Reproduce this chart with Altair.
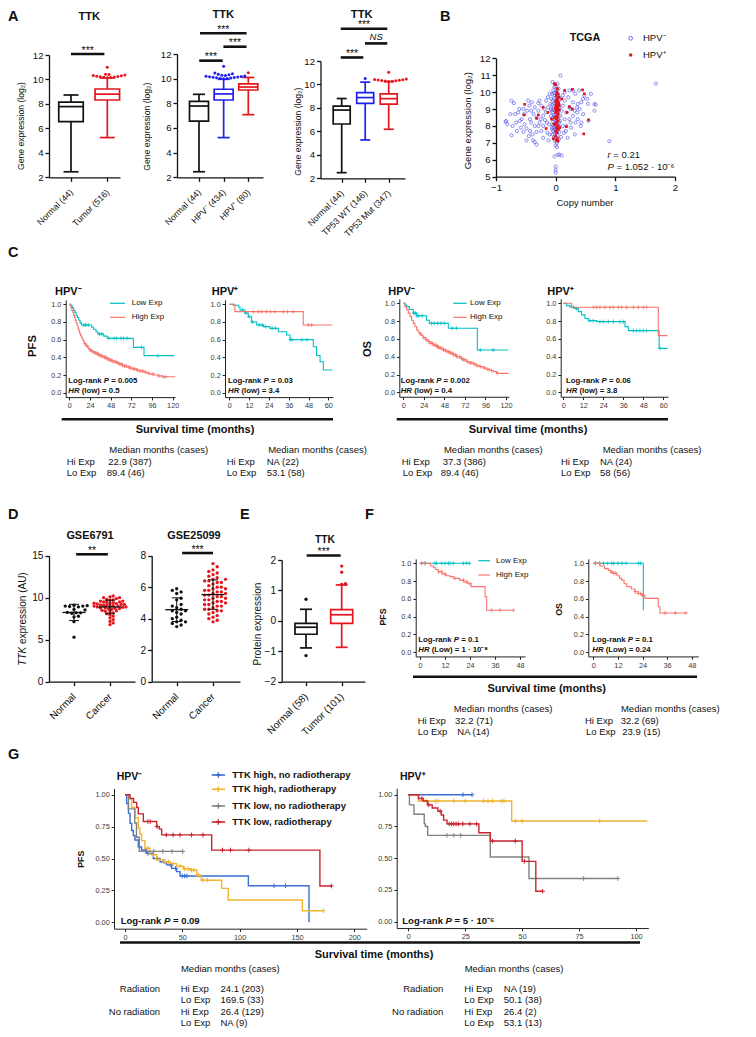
import json
import altair as alt
import numpy as np
import pandas as pd

FONT = "Liberation Sans"
W, H = 740, 1021
OX, OY = 8, 8

# ---------------- colours ----------------
BLACK = "#111111"
BOX_BLUE = "#1f1ff2"
BOX_RED = "#e3161e"
SC_BLUE = "#5a5ae8"
SC_RED = "#e0101a"
TEAL = "#00BFC4"
SALMON = "#F8766D"
G_BLUE = "#3b6fd4"
G_YEL = "#f1b531"
G_GRAY = "#828282"
G_RED = "#c92530"
AX_DARK = "#222222"
LAB_GRAY = "#3a3a3a"

# ======================= DATA =======================
# ---- Panel A : box summaries (lower whisker, Q1, median, Q3, upper whisker) ----
A1_cats = ["Normal (44)", "Tumor (516)"]
A1_low = [2.45, 5.25]
A1_q1 = [6.55, 8.32]
A1_med = [7.78, 8.80]
A1_q3 = [8.15, 9.22]
A1_high = [8.73, 10.12]
A1_out_cat = [1] * 13
A1_out_val = [10.15, 10.16, 10.18, 10.2, 10.22, 10.24, 10.26, 10.3, 10.33, 10.36, 10.4, 10.43, 11.0]

A2_cats = ["Normal (44)", "HPV\u207b (434)", "HPV\u207a (80)"]
A2_low = [2.45, 5.22, 7.08]
A2_q1 = [6.55, 8.27, 9.08]
A2_med = [7.78, 8.76, 9.32]
A2_q3 = [8.15, 9.14, 9.57]
A2_high = [8.73, 9.95, 10.1]
A2_out_cat = [1] * 19 + [2]
A2_out_val = [10.0, 10.02, 10.04, 10.06, 10.08, 10.1, 10.12, 10.14, 10.16, 10.18, 10.2, 10.22,
              10.25, 10.28, 10.32, 10.36, 10.4, 10.45, 11.0, 10.48]

A3_cats = ["Normal (44)", "TP53 WT (146)", "TP53 Mut (347)"]
A3_low = [2.48, 5.27, 6.18]
A3_q1 = [6.63, 8.39, 8.33]
A3_med = [7.82, 8.88, 8.79]
A3_q3 = [8.16, 9.3, 9.19]
A3_high = [8.8, 10.2, 10.24]
A3_out_cat = [1] + [2] * 11
A3_out_val = [10.5, 10.26, 10.28, 10.3, 10.32, 10.34, 10.36, 10.38, 10.4, 10.43, 10.46, 11.04]

# ---- Panel B : copy number vs expression ----
B_neg_points = [
    (-0.74, 9.5), (-0.70, 9.35), (-0.76, 8.7), (-0.83, 8.3), (-0.81, 8.1), (-0.74, 7.45), (-0.66, 8.2),
    (-0.68, 8.7), (-0.63, 8.8), (-0.60, 8.3), (-0.57, 8.4), (-0.54, 9.0), (-0.53, 8.7), (-0.54, 7.65),
    (-0.49, 7.85), (-0.52, 8.1), (-0.46, 9.5), (-0.44, 9.2), (-0.43, 8.4), (-0.41, 8.2), (-0.43, 7.7),
    (-0.49, 7.15), (-0.38, 7.15), (-0.35, 7.05), (-0.39, 7.5), (-0.32, 7.65), (-0.35, 8.0), (-0.32, 8.5),
    (-0.29, 8.9), (-0.27, 9.5), (-0.24, 9.2), (-0.21, 8.6), (-0.27, 8.2), (-0.24, 7.7), (-0.21, 8.0),
    (-0.18, 8.35), (-0.16, 8.8), (-0.13, 9.1), (-0.16, 9.5), (-0.13, 9.7), (-0.10, 9.9), (-0.11, 8.1),
    (-0.10, 7.5), (-0.12, 7.15), (-0.32, 6.9), (-0.29, 9.35), (-0.41, 8.9), (-0.48, 8.9), (-0.61, 9.0),
    (-0.37, 8.7), (-0.29, 8.0), (-0.21, 7.3), (-0.84, 8.25), (-0.72, 8.0), (-0.65, 7.7), (-0.58, 7.9),
    (-0.45, 7.4), (-0.40, 9.4), (-0.35, 9.1), (-0.25, 8.4), (-0.19, 9.0), (-0.15, 8.2), (-0.08, 8.6),
    (-0.09, 9.3), (-0.06, 7.8), (-0.14, 7.6),
    (-0.05, 10.6), (0.03, 10.5), (-0.02, 10.3), (0.05, 10.2), (-0.04, 10.1), (0.01, 10.0), (-0.06, 9.9),
    (0.04, 9.85), (-0.01, 9.8), (0.06, 9.7), (-0.03, 9.65), (0.02, 9.6), (-0.05, 9.5), (0.04, 9.45),
    (0.0, 9.4), (-0.02, 9.35), (0.05, 9.3), (-0.06, 9.25), (0.03, 9.2), (-0.03, 9.15), (0.01, 9.1),
    (0.06, 9.05), (-0.04, 9.0), (0.02, 8.95), (-0.01, 8.9), (0.04, 8.85), (-0.05, 8.8), (0.03, 8.75),
    (0.0, 8.7), (-0.03, 8.65), (0.05, 8.6), (-0.02, 8.55), (0.02, 8.5), (-0.06, 8.45), (0.04, 8.4),
    (-0.01, 8.35), (0.01, 8.3), (-0.04, 8.25), (0.06, 8.2), (-0.02, 8.15), (0.03, 8.1), (-0.05, 8.05),
    (0.0, 8.0), (0.05, 7.95), (-0.03, 7.9), (0.02, 7.85), (-0.01, 7.8), (0.04, 7.75), (-0.04, 7.7),
    (0.01, 7.6), (-0.02, 7.55), (0.03, 7.45), (0.0, 7.35), (-0.03, 7.3), (0.05, 7.2), (-0.01, 7.1),
    (0.02, 7.0), (0.0, 6.85), (0.06, 6.3), (-0.02, 6.2), (0.0, 5.6), (0.0, 5.4), (0.0, 5.25),
    (0.02, 6.75), (-0.05, 7.5), (0.05, 8.0), (-0.07, 8.9), (0.07, 9.55), (0.08, 10.98), (-0.08, 9.0),
    (0.08, 8.6), (-0.07, 9.6), (0.07, 8.3), (-0.06, 7.9), (0.06, 7.65), (0.0, 10.35), (0.02, 10.15),
    (-0.03, 9.95),
    (0.23, 10.1), (0.29, 10.1), (0.33, 9.9), (0.39, 10.1), (0.48, 9.8), (0.59, 9.9), (0.53, 9.6),
    (0.65, 9.3), (0.67, 9.25), (0.65, 8.9), (0.43, 9.4), (0.37, 9.3), (0.36, 9.1), (0.32, 8.9),
    (0.36, 8.8), (0.37, 8.4), (0.33, 8.2), (0.43, 8.2), (0.90, 7.1), (0.32, 7.5), (1.68, 10.5),
    (0.23, 9.1), (0.18, 8.8), (0.15, 8.4), (0.18, 8.0), (0.26, 7.9), (0.17, 7.7), (0.09, 7.35),
    (0.12, 8.0), (0.15, 9.5), (0.12, 9.8), (0.21, 9.7), (0.29, 9.4), (0.26, 9.0), (0.29, 8.6),
    (0.23, 8.4), (0.46, 8.7), (0.54, 9.3), (0.46, 9.6), (0.25, 8.2), (0.12, 9.2), (0.10, 8.9),
    (0.10, 6.25), (0.04, 6.3), (0.42, 8.0), (0.20, 7.3), (0.15, 10.0), (0.40, 9.0), (0.55, 8.3),
    (0.14, 7.6),
]
B_pos_points = [
    (0.0, 10.45), (0.03, 10.2), (0.02, 10.0), (0.04, 9.9), (0.01, 9.8), (0.05, 9.7), (0.02, 9.6),
    (0.03, 9.5), (0.0, 9.45), (0.04, 9.4), (0.02, 9.35), (0.05, 9.3), (0.01, 9.25), (0.03, 9.2),
    (0.0, 9.15), (0.04, 9.1), (0.02, 9.05), (0.03, 9.0), (0.05, 8.95), (0.01, 8.9), (0.03, 8.85),
    (0.0, 8.8), (0.04, 8.7), (0.02, 8.6), (0.03, 8.5), (0.01, 8.4), (0.04, 8.3), (0.02, 8.2),
    (0.0, 8.1), (0.03, 8.0), (0.01, 7.9), (0.04, 7.8), (0.02, 7.6), (0.0, 7.4), (0.03, 7.25),
    (0.01, 7.15), (0.04, 7.1), (-0.02, 8.5), (-0.01, 9.0), (0.06, 8.95), (-0.02, 10.5), (0.15, 10.1),
    (0.28, 10.17), (0.45, 10.13), (0.48, 9.9), (-0.52, 9.28), (-0.53, 8.65), (-0.32, 8.45),
    (-0.21, 9.1), (-0.13, 8.8), (-0.07, 8.4), (-0.16, 7.85), (-0.29, 8.65), (0.23, 9.14), (0.19, 8.8),
    (0.18, 7.96), (0.55, 8.36), (0.47, 7.53), (-0.04, 7.25), (0.28, 9.0), (0.10, 9.6), (0.06, 9.2),
    (-0.03, 8.1), (0.07, 7.9), (0.0, 7.7),
]

# ---- Panel C : Kaplan-Meier (step times, survival after step, last follow-up, censor times) ----
C1_low_t = [0, 2, 3.5, 5, 6.5, 8, 9.5, 11, 12.5, 14, 26, 28, 31, 33, 40, 44, 74.3, 86.7]
C1_low_s = [1.0, .98, .96, .93, .91, .87, .85, .82, .79, .766, .74, .717, .69, .664, .64, .615, .513, .419]
C1_low_end = 122
C1_low_cens = [17, 19, 22, 35, 38, 46, 52, 55, 60, 63, 67, 84, 103]
C1_high_t = [0, 1, 2, 3, 4, 5, 6, 7, 8, 9, 10, 11, 12, 13, 14, 15, 16, 17, 18, 19, 20, 22, 24, 26, 28, 30,
             32, 34, 36, 38, 40, 43, 46, 49, 52, 55, 58, 61, 64, 67, 70, 74, 78, 82, 86, 90, 94, 98, 103, 108]
C1_high_s = [1.0, .98, .96, .93, .91, .88, .85, .82, .79, .76, .73, .70, .67, .65, .63, .61, .59, .57, .555,
             .54, .525, .50, .485, .47, .46, .45, .44, .43, .42, .41, .40, .385, .37, .36, .35, .34, .325,
             .31, .30, .29, .28, .27, .255, .245, .235, .22, .21, .20, .19, .18]
C1_high_end = 123
C1_high_cens = [18, 21, 24, 26, 28, 30, 31, 33, 34, 36, 37, 39, 41, 42, 44, 45, 47, 48, 50, 52, 54, 56, 58,
                60, 62, 64, 66, 69, 71, 74, 76, 79, 82, 85, 88, 92, 97, 104, 109, 112]

C2_low_t = [0, 2.4, 5.5, 6.5, 9.5, 11.5, 13.5, 16.6, 20.6, 24.6, 29.7, 34.7, 36.8, 50.9, 52.9, 55, 57]
C2_low_s = [1.0, .99, .97, .936, .9, .86, .8, .766, .747, .728, .69, .653, .6, .52, .42, .35, .257]
C2_low_end = 62.5
C2_low_cens = [8, 10, 12, 14, 18, 20, 22, 26, 28, 37, 38, 44, 47]
C2_high_t = [0, 3.4, 44.8]
C2_high_s = [1.0, .917, .766]
C2_high_end = 62.5
C2_high_cens = [14.5, 17.6, 19.6, 22.6, 25, 27.7, 32.7, 35.2, 38.8, 47.9, 49.9]

C3_low_t = [0, 2, 3.9, 7, 11.7, 15.6, 27, 30.4, 52.6, 86.5]
C3_low_s = [1.0, .98, .963, .93, .89, .86, .81, .775, .72, .476]
C3_low_end = 122.7
C3_low_cens = [12, 14, 16, 18, 22, 33, 36, 40, 44, 48, 57, 62, 90, 105]
C3_high_t = [0, 2, 3.9, 5.8, 7.8, 9.7, 11.7, 13.6, 15.6, 17.5, 19.5, 21.5, 23.4, 26, 29.2, 32, 35, 39, 42.9,
             46.8, 50.6, 54.5, 58.4, 62.3, 66.2, 70, 74, 78, 81.8, 85.7, 89.6, 93.5, 97.4, 101, 105, 109]
C3_high_s = [1.0, .96, .925, .89, .85, .81, .775, .74, .70, .675, .655, .635, .614, .59, .57, .55, .53, .51,
             .494, .475, .457, .44, .42, .40, .382, .365, .345, .33, .318, .30, .288, .273, .258, .245, .232, .213]
C3_high_end = 123
C3_high_cens = [20, 24, 27, 30, 32, 34, 36, 38, 40, 41, 43, 45, 47, 49, 51, 53, 55, 57, 59, 61, 63, 66, 68,
                70, 72, 75, 78, 80, 83, 86, 90, 95, 99, 103, 110]

C4_low_t = [0, 2, 4, 7, 9, 11, 13, 15, 20, 37, 39, 57.5]
C4_low_s = [1.0, .974, .955, .94, .906, .87, .83, .805, .794, .738, .693, .494]
C4_low_end = 62.5
C4_low_cens = [6, 8, 16, 18, 22, 24, 27, 30, 34, 36, 42, 44, 46, 48, 50, 58]
C4_high_t = [0, 5, 57]
C4_high_s = [1.0, .955, .637]
C4_high_end = 62.5
C4_high_cens = [18, 20, 22, 25, 28, 30, 33, 35, 38, 42, 45, 48, 50]

# ---- Panel D : individual values ----
D1_cats = ["Normal", "Cancer"]
D1_normal = [9.1, 9.05, 9.0, 9.0, 8.95, 8.9, 8.6, 8.55, 8.25, 8.2, 8.15, 8.2, 7.8, 7.7, 7.15, 5.3]
D1_cancer = [10.2, 10.1, 10.0, 10.0, 9.9, 9.8, 9.75, 9.7, 9.6, 9.6, 9.5, 9.5, 9.45, 9.4, 9.35, 9.3, 9.3,
             9.25, 9.2, 9.2, 9.15, 9.1, 9.1, 9.05, 9.0, 9.0, 8.95, 8.9, 8.9, 8.85, 8.8, 8.8, 8.75, 8.7,
             8.65, 8.6, 8.5, 8.45, 8.4, 8.3, 8.2, 8.1, 7.95, 7.8, 7.6, 7.4, 7.2, 7.0, 6.8]
D2_cats = ["Normal", "Cancer"]
D2_normal = [5.9, 5.8, 5.7, 5.6, 5.3, 5.2, 4.9, 4.8, 4.7, 4.6, 4.5, 4.5, 4.4, 4.3, 4.1, 4.0, 3.9, 3.8,
             3.8, 3.7, 3.6, 3.5]
D2_cancer = [7.5, 7.3, 7.1, 7.0, 6.9, 6.8, 6.7, 6.6, 6.5, 6.5, 6.4, 6.4, 6.3, 6.3, 6.2, 6.1, 6.0, 6.0,
             5.9, 5.9, 5.8, 5.8, 5.7, 5.7, 5.6, 5.6, 5.5, 5.5, 5.4, 5.4, 5.3, 5.3, 5.2, 5.2, 5.1, 5.1,
             5.0, 5.0, 4.9, 4.9, 4.8, 4.8, 4.7, 4.6, 4.6, 4.5, 4.5, 4.4, 4.3, 4.2, 4.1, 4.0, 3.9, 3.8]

# ---- Panel E : protein expression box summaries ----
E_cats = ["Normal (58)", "Tumor (101)"]
E_low = [-0.89, -0.87]
E_q1 = [-0.44, -0.08]
E_med = [-0.21, 0.20]
E_q3 = [-0.08, 0.37]
E_high = [0.38, 1.18]
E_out_cat = [0, 0, 1, 1, 1, 1]
E_out_val = [0.71, -1.14, 1.2, 1.22, 1.6, 1.8]

# ---- Panel F : Kaplan-Meier ----
F1_low_t = [0]
F1_low_s = [1.0]
F1_low_end = 23.7
F1_low_cens = [0.8, 2.4, 7.2, 8, 10.4, 12, 13.6, 14.4, 16, 20.8, 22.4, 23.7]
F1_high_t = [0, 5, 6.5, 7.5, 8.8, 10.5, 12.5, 14.4, 16, 19, 21, 23, 24.5, 31.2, 32]
F1_high_s = [1.0, .97, .95, .93, .905, .88, .86, .85, .83, .81, .79, .77, .737, .624, .47]
F1_high_end = 44.8
F1_high_cens = [0.8, 2.4, 9, 10.4, 12, 16.8, 20.8, 22.4, 24, 34.4, 38.4, 44.8]
F2_low_t = [0, 24.4]
F2_low_s = [1.0, 0.47]
F2_low_end = 24.4
F2_low_cens = [1, 3, 5, 7, 9, 10, 12, 14, 16, 22, 23]
F2_high_t = [0, 3.3, 5.5, 7.3, 8.5, 9.8, 11.5, 12.8, 13.8, 15, 16.3, 18.5, 20.3, 22, 23.6, 25.2, 31.7, 32.5]
F2_high_s = [1.0, .97, .94, .92, .9, .887, .86, .83, .81, .77, .737, .71, .68, .66, .64, .605, .51, .44]
F2_high_end = 45.2
F2_high_cens = [1, 3, 9, 10, 11, 20.5, 22, 23, 24, 35, 40, 45.2]

# ---- Panel G : Kaplan-Meier by TTK and radiotherapy ----
G_groups = ["TTK high, no radiotherapy", "TTK high, radiotherapy", "TTK low, no radiotherapy",
            "TTK low, radiotherapy"]
G1_hnr_t = [0, 1.45, 3.0, 4.4, 5.8, 7.3, 8.7, 11.6, 14.5, 18.9, 24.7, 30.5, 36.3, 40.7, 45, 48, 107.6, 160.5]
G1_hnr_s = [1.0, .93, .854, .775, .72, .68, .645, .59, .567, .54, .5, .475, .45, .423, .397, .363, .287, 0.0]
G1_hnr_end = 160.5
G1_hnr_cens = [20, 28, 34, 40, 44, 50, 52, 54, 130, 140]
G1_hr_t = [0, 3, 5.8, 8.7, 11.6, 13, 14.5, 17.4, 21.8, 27.6, 33.4, 39.3, 45, 50.9, 56.7, 62.5, 66.6, 84.3, 90, 154.7]
G1_hr_s = [1.0, .97, .9, .82, .74, .69, .64, .58, .53, .49, .475, .46, .44, .42, .41, .37, .33, .266, .175, .091]
G1_hr_end = 173
G1_hr_cens = [20, 25, 30, 35, 38, 42, 48, 52, 55, 58, 60, 64, 68, 72, 173]
G1_lnr_t = [0, 3, 8.5, 10, 12.5]
G1_lnr_s = [1.0, .889, .778, .667, .556]
G1_lnr_end = 50.3
G1_lnr_cens = [18, 25, 33, 41, 50.3]
G1_lr_t = [0, 4.4, 7.5, 10.2, 11.6, 16, 27.6, 30, 32, 75.6, 170]
G1_lr_s = [1.0, .97, .94, .9, .85, .79, .75, .73, .685, .566, .285]
G1_lr_end = 180
G1_lr_cens = [20, 22, 28, 36, 42, 48, 58, 68, 85, 92, 108, 180]

G2_hnr_t = [0]
G2_hnr_s = [1.0]
G2_hnr_end = 28
G2_hnr_cens = [24, 28]
G2_hr_t = [0, 4.4, 45.4]
G2_hr_s = [1.0, .95, .793]
G2_hr_end = 105
G2_hr_cens = [8, 12, 13, 20, 25, 33, 35, 37, 41, 42, 47, 50, 84]
G2_lnr_t = [0, 0.5, 2.5, 7, 7.5, 8.5, 36, 53]
G2_lnr_s = [1.0, .92, .846, .77, .75, .68, .51, .34]
G2_lnr_end = 92
G2_lnr_cens = [17, 20, 23, 77, 92]
G2_lr_t = [0, 4.5, 6.5, 8.5, 10.5, 13, 14.5, 15.5, 17, 31, 36, 50, 56]
G2_lr_s = [1.0, .97, .95, .92, .895, .87, .84, .8, .77, .70, .635, .475, .24]
G2_lr_end = 59
G2_lr_cens = [6, 9, 14, 18, 19, 20, 21, 22, 24, 27, 30, 37, 47, 51, 59]

# ======================= HELPERS =======================
PLUS = "M-1,0L1,0M0,-1L0,1"


def cx(rx):
    return float(rx) - OX


def cy(ry):
    return float(ry) - OY


def lin(dom, r0, r1):
    return alt.Scale(domain=[float(dom[0]), float(dom[1])], range=[float(r0), float(r1)],
                     nice=False, zero=False)


def y_axis(ax_rx, values, fmt, size, tick=4.0, col=BLACK, lcol=BLACK, w=1.3, pad=2):
    return alt.Axis(orient="left", offset=-cx(ax_rx), values=values, format=fmt, title=None, grid=False,
                    labelFont=FONT, labelFontSize=size, labelColor=lcol, labelPadding=pad,
                    labelFlush=False, labelOverlap=False, tickSize=tick, tickColor=col, tickWidth=w,
                    domainColor=col, domainWidth=w)


def x_axis(ax_ry, values, size, fmt=None, expr=None, angle=None, tick=4.0, col=BLACK, lcol=BLACK,
           w=1.3, pad=2):
    kw = dict(orient="bottom", offset=cy(ax_ry) - H, values=values, title=None, grid=False,
              labelFont=FONT, labelFontSize=size, labelColor=lcol, labelPadding=pad,
              labelFlush=False, labelOverlap=False, tickSize=tick, tickColor=col, tickWidth=w,
              domainColor=col, domainWidth=w)
    if fmt:
        kw["format"] = fmt
    if expr:
        kw["labelExpr"] = expr
    if angle is not None:
        kw.update(labelAngle=angle, labelAlign="right", labelBaseline="middle")
    return alt.Axis(**kw)


def swarm(vals, ypx, d):
    step = d * 0.55
    order = sorted(range(len(vals)), key=lambda k: vals[k])
    cands = [0.0]
    for j in range(1, 60):
        cands += [j * step, -j * step]
    placed, offs = [], [0.0] * len(vals)
    for k in order:
        y = vals[k] * ypx
        c = 0.0
        for c in cands:
            if all((c - px) ** 2 + (y - py) ** 2 >= d * d for px, py in placed):
                break
        placed.append((c, y))
        offs[k] = c
    return offs


def cat_scales(g, n):
    f, l = g["cats"]
    step = (l - f) / (n - 1)
    a = -(f - g["x0"]) / step
    b = (n - 1) + (g["x1"] - l) / step
    xs = lin([a, b], cx(g["x0"]), cx(g["x1"]))
    ys = lin(g["ydom"], cy(g["yb"]), cy(g["yt"]))
    ypx = (g["yb"] - g["yt"]) / (g["ydom"][1] - g["ydom"][0])
    return step, xs, ys, ypx


def sig_layers(sig, X, Y):
    df = pd.DataFrame(sig, columns=["s0", "s1", "sy", "lab"])
    df["sm"] = (df["s0"] + df["s1"]) / 2
    out = [alt.Chart(df).mark_rule(strokeWidth=2.6, color=BLACK).encode(x=X("s0"), x2="s1", y=Y("sy"))]
    st = df[df["lab"] != "NS"].reset_index(drop=True)
    ns = df[df["lab"] == "NS"].reset_index(drop=True)
    if len(st):
        out.append(alt.Chart(st).mark_text(font=FONT, fontSize=10.5, dy=-3.5, color=BLACK)
                   .encode(x=X("sm"), y=Y("sy"), text="lab:N"))
    if len(ns):
        out.append(alt.Chart(ns).mark_text(font=FONT, fontSize=9.5, fontStyle="italic", dy=-6.5, color=BLACK)
                   .encode(x=X("sm"), y=Y("sy"), text="lab:N"))
    return out


def box_panel(cats, low, q1, med, q3, high, cols, out_cat, out_val, g):
    n = len(cats)
    step, xs, ys, ypx = cat_scales(g, n)
    xa = x_axis(g["yb"], list(range(n)), g["xls"], expr=json.dumps(cats) + "[datum.value]", angle=315,
                pad=g["xpad"])
    ya = y_axis(g["x0"], g["yticks"], "d", g["yls"])
    X = lambda f: alt.X(f + ":Q", scale=xs, axis=xa)
    Y = lambda f: alt.Y(f + ":Q", scale=ys, axis=ya)
    C = alt.Color("col:N", scale=None)
    hw = g["boxw"] / 2 / step
    cw = g["capw"] / 2 / step
    df = pd.DataFrame({"i": list(range(n)), "low": low, "q1": q1, "med": med, "q3": q3, "high": high,
                       "col": cols})
    df["xl"] = df["i"] - hw
    df["xr"] = df["i"] + hw
    df["cl"] = df["i"] - cw
    df["cr"] = df["i"] + cw
    base = alt.Chart(df)
    sw = g["sw"]
    layers = [
        base.mark_rule(strokeWidth=sw).encode(x=X("i"), y=Y("low"), y2="q1", color=C),
        base.mark_rule(strokeWidth=sw).encode(x=X("i"), y=Y("q3"), y2="high", color=C),
        base.mark_rule(strokeWidth=sw).encode(x=X("cl"), x2="cr", y=Y("low"), color=C),
        base.mark_rule(strokeWidth=sw).encode(x=X("cl"), x2="cr", y=Y("high"), color=C),
        base.mark_rect(fill="white", strokeWidth=sw).encode(x=X("xl"), x2="xr", y=Y("q1"), y2="q3",
                                                             stroke=alt.Stroke("col:N", scale=None)),
        base.mark_rule(strokeWidth=sw).encode(x=X("xl"), x2="xr", y=Y("med"), color=C),
    ]
    if out_val:
        xo = [0.0] * len(out_val)
        for c in sorted(set(out_cat)):
            idx = [k for k in range(len(out_val)) if out_cat[k] == c]
            offs = swarm([out_val[k] for k in idx], ypx, g["dotd"])
            for k, o in zip(idx, offs):
                xo[k] = c + o / step
        od = pd.DataFrame({"i": out_cat, "v": out_val, "xo": xo, "col": [cols[c] for c in out_cat]})
        layers.append(alt.Chart(od).mark_circle(size=g["dots"], opacity=1).encode(x=X("xo"), y=Y("v"), color=C))
    layers += sig_layers(g["sig"], X, Y)
    return alt.layer(*layers)


def dot_panel(cats, groups, cols, g):
    n = len(cats)
    step, xs, ys, ypx = cat_scales(g, n)
    xa = x_axis(g["yb"], list(range(n)), g["xls"], expr=json.dumps(cats) + "[datum.value]", angle=315,
                pad=g["xpad"])
    ya = y_axis(g["x0"], g["yticks"], "d", g["yls"])
    X = lambda f: alt.X(f + ":Q", scale=xs, axis=xa)
    Y = lambda f: alt.Y(f + ":Q", scale=ys, axis=ya)
    C = alt.Color("col:N", scale=None)
    rows = []
    for i, vals in enumerate(groups):
        offs = swarm(vals, ypx, g["dotd"][i])
        for v, o in zip(vals, offs):
            rows.append({"i": i, "v": v, "xs": i + o / step, "col": cols[i]})
    pts = pd.DataFrame(rows)
    mw = g["meanw"] / 2 / step
    cw = g["capw"] / 2 / step
    agg = alt.Chart(pts).transform_aggregate(m="mean(v)", sd="stdev(v)", groupby=["i"]).transform_calculate(
        xl=f"datum.i - {mw}", xr=f"datum.i + {mw}", cl=f"datum.i - {cw}", cr=f"datum.i + {cw}",
        lo="datum.m - datum.sd", hi="datum.m + datum.sd")
    layers = [
        alt.Chart(pts).mark_circle(size=g["dots"], opacity=1).encode(x=X("xs"), y=Y("v"), color=C),
        agg.mark_rule(strokeWidth=1.3, color=BLACK).encode(x=X("xl"), x2="xr", y=Y("m")),
        agg.mark_rule(strokeWidth=1.0, color=BLACK).encode(x=X("i"), y=Y("lo"), y2="hi"),
        agg.mark_rule(strokeWidth=1.0, color=BLACK).encode(x=X("cl"), x2="cr", y=Y("lo")),
        agg.mark_rule(strokeWidth=1.0, color=BLACK).encode(x=X("cl"), x2="cr", y=Y("hi")),
    ]
    layers += sig_layers(g["sig"], X, Y)
    return alt.layer(*layers)


def km_panel(curves, g):
    ppm = (g["tpx"] - g["t0"]) / g["tref"]
    a = (g["ax"] - g["t0"]) / ppm
    b = (g["xend"] - g["t0"]) / ppm
    unit = g["y0"] - g["y1"]
    yb = g["y0"] + 0.05 * unit
    yt = g["y1"] - 0.05 * unit
    xs = lin([a, b], cx(g["ax"]), cx(g["xend"]))
    ys = lin([-0.05, 1.05], cy(yb), cy(yt))
    xa = x_axis(yb, g["xticks"], g["ls"], fmt="d", tick=g["tick"], col=AX_DARK, lcol=LAB_GRAY, w=g["axw"])
    ya = y_axis(g["ax"], g["yticks"], g["yfmt"], g["ls"], tick=g["tick"], col=AX_DARK, lcol=LAB_GRAY, w=g["axw"])
    X = lambda f: alt.X(f + ":Q", scale=xs, axis=xa)
    Y = lambda f: alt.Y(f + ":Q", scale=ys, axis=ya)
    layers = []
    for times, surv, end, cens, color in curves:
        line = pd.DataFrame({"t": list(times) + [end], "s": list(surv) + [surv[-1]]})
        layers.append(alt.Chart(line).mark_line(interpolate="step-after", color=color, strokeWidth=g["lw"])
                      .encode(x=X("t"), y=Y("s")))
        cs = [surv[max(k for k, tt in enumerate(times) if tt <= c)] for c in cens]
        cd = pd.DataFrame({"t": cens, "s": cs})
        layers.append(alt.Chart(cd).mark_point(shape=PLUS, filled=False, color=color, size=g["cs"],
                                               strokeWidth=g["cw"], opacity=1).encode(x=X("t"), y=Y("s")))
    return alt.layer(*layers)


def scatter_panel():
    xs = lin([-1, 2], cx(496), cx(675))
    ys = lin([5, 12], cy(176.7), cy(58.3))
    xa = x_axis(176.7, [-1, 0, 1, 2], 9.6, fmt="d")
    ya = y_axis(496, [5, 6, 7, 8, 9, 10, 11, 12], "d", 9.6)
    X = lambda f: alt.X(f + ":Q", scale=xs, axis=xa)
    Y = lambda f: alt.Y(f + ":Q", scale=ys, axis=ya)
    neg = pd.DataFrame(B_neg_points, columns=["cn", "v"])
    pos = pd.DataFrame(B_pos_points, columns=["cn", "v"])
    return alt.layer(
        alt.Chart(neg).mark_point(shape="circle", filled=False, size=10, strokeWidth=0.8, color=SC_BLUE,
                                  opacity=0.85).encode(x=X("cn"), y=Y("v")),
        alt.Chart(pos).mark_square(size=7, color=SC_RED, opacity=1).encode(x=X("cn"), y=Y("v")),
    )


# ---- text helpers (annotation layout, pixel positions of the reference) ----
REG = dict(zip("abcdefghijklmnopqrstuvwxyz",
               [556, 556, 500, 556, 556, 278, 556, 556, 222, 222, 500, 222, 833, 556, 556, 556, 556, 333, 500,
                278, 556, 500, 722, 500, 500, 500]))
REG.update(zip("ABCDEFGHIJKLMNOPQRSTUVWXYZ",
               [667, 667, 722, 722, 667, 611, 778, 722, 278, 500, 667, 556, 833, 722, 778, 667, 778, 722, 667,
                611, 722, 667, 944, 667, 667, 611]))
BOLD = dict(zip("abcdefghijklmnopqrstuvwxyz",
                [556, 611, 556, 611, 556, 333, 611, 611, 278, 278, 556, 278, 889, 611, 611, 611, 611, 389, 556,
                 333, 611, 556, 778, 556, 556, 500]))
BOLD.update(zip("ABCDEFGHIJKLMNOPQRSTUVWXYZ",
                [722, 722, 722, 722, 667, 611, 778, 722, 278, 556, 722, 611, 833, 722, 778, 667, 778, 722, 667,
                 611, 722, 667, 944, 667, 667, 611]))
for tab in (REG, BOLD):
    tab.update({c: 556 for c in "0123456789"})
    tab.update({" ": 278, "(": 333, ")": 333, "-": 333, "=": 584, ".": 278, ",": 278})


def tw(s, size, bold):
    tab = BOLD if bold else REG
    return sum(tab.get(ch, 556) for ch in s) * size / 1000.0


ANN = []


def T(text, rx, ry, size, weight="normal", style="normal", align="left", angle=0, color=BLACK):
    ANN.append(dict(text=text, x=max(0.0, cx(rx)), y=max(size * 0.62, cy(ry)), size=size, weight=weight,
                    style=style, align=align, angle=angle, color=color))


def R(segs, rx, ry, size, align="left", angle=0, color=BLACK):
    widths = [tw(s, size, w == "bold") for s, w, st in segs]
    pos = 0.0 if align == "left" else -sum(widths) / 2
    for (s, w, st), wd in zip(segs, widths):
        lead = len(s) - len(s.lstrip(" "))
        shift = pos + tw(" " * lead, size, w == "bold")
        if angle == 0:
            T(s.strip(), rx + shift, ry, size, w, st, "left", 0, color)
        else:
            T(s.strip(), rx, ry - shift, size, w, st, "left", angle, color)
        pos += wd


RULES = []
PTS = []

# ======================= PANELS =======================
A1g = dict(x0=49, x1=120, cats=(71, 107.3), ydom=[2, 12], yb=177.3, yt=55, yticks=[2, 4, 6, 8, 10, 12],
           yls=9.6, xls=8.8, xpad=9, boxw=24.5, capw=15, sw=1.7, dotd=3.2, dots=9,
           sig=[(0, 0.92, 12.08, "***")])
A2g = dict(x0=177, x1=263, cats=(199, 248.3), ydom=[2, 12], yb=177.3, yt=54, yticks=[2, 4, 6, 8, 10, 12],
           yls=9.6, xls=8.8, xpad=9, boxw=19, capw=12, sw=1.7, dotd=3.2, dots=9,
           sig=[(0.04, 1.93, 13.68, "***"), (0.99, 1.93, 12.59, "***"), (0.01, 0.96, 11.46, "***")])
A3g = dict(x0=320.5, x1=405, cats=(341.7, 388.7), ydom=[2, 12], yb=178.3, yt=61, yticks=[2, 4, 6, 8, 10, 12],
           yls=9.6, xls=8.8, xpad=9, boxw=17, capw=10, sw=1.7, dotd=3.2, dots=9,
           sig=[(-0.04, 1.94, 14.75, "***"), (0.99, 1.94, 13.5, "NS"), (-0.04, 0.92, 12.3, "***")])
Eg = dict(x0=281.7, x1=365, cats=(306, 341.7), ydom=[-2, 2], yb=681.7, yt=560, yticks=[-2, -1, 0, 1, 2],
          yls=10.2, xls=10, xpad=9, boxw=22, capw=12, sw=1.7, dotd=3.4, dots=11,
          sig=[(0.02, 0.97, 2.15, "***")])
D1g = dict(x0=49, x1=135, cats=(74, 110), ydom=[0, 15], yb=681.7, yt=555.7, yticks=[0, 5, 10, 15],
           yls=10.2, xls=10, xpad=9, dotd=[4.0, 2.9], dots=11, meanw=23, capw=10,
           sig=[(0.06, 0.94, 15.17, "**")])
D2g = dict(x0=151.7, x1=240, cats=(176.7, 213), ydom=[0, 8], yb=681.7, yt=555.7, yticks=[0, 2, 4, 6, 8],
           yls=10.2, xls=10, xpad=9, dotd=[4.0, 3.8], dots=11, meanw=23, capw=10,
           sig=[(0.15, 1.0, 8.17, "***")])

KC = dict(yticks=[0, 0.2, 0.4, 0.6, 0.8, 1.0], yfmt=".1f", ls=7.3, tick=2.8, axw=1.0, lw=1.1, cs=16, cw=0.8)
C1g = dict(KC, ax=65.7, t0=69.3, tref=120, tpx=172.7, xend=175, y1=304.3, y0=392.7, xticks=[0, 24, 48, 72, 96, 120])
C2g = dict(KC, ax=225, t0=229.3, tref=60, tpx=328.3, xend=333, y1=304.3, y0=392.7, xticks=[0, 12, 24, 36, 48, 60])
C3g = dict(KC, ax=399.3, t0=403.3, tref=120, tpx=506, xend=509, y1=303.3, y0=392.3, xticks=[0, 24, 48, 72, 96, 120])
C4g = dict(KC, ax=560.7, t0=563.3, tref=60, tpx=663.3, xend=668, y1=303.3, y0=392.3, xticks=[0, 12, 24, 36, 48, 60])
F1g = dict(KC, ax=415.7, t0=420, tref=48, tpx=520, xend=525, y1=563.3, y0=652, xticks=[0, 12, 24, 36, 48])
F2g = dict(KC, ax=588.3, t0=593.3, tref=48, tpx=691.7, xend=698.3, y1=563.3, y0=652, xticks=[0, 12, 24, 36, 48])
KG = dict(yticks=[0, 0.25, 0.5, 0.75, 1.0], yfmt=".2f", ls=7.3, tick=2.8, axw=1.0, lw=1.4, cs=22, cw=1.0)
G1g = dict(KG, ax=114, t0=125, tref=200, tpx=354.3, xend=366.7, y1=794.7, y0=922.3, xticks=[0, 50, 100, 150, 200])
G2g = dict(KG, ax=396.7, t0=408.3, tref=100, tpx=636, xend=648.3, y1=794.7, y0=921.7, xticks=[0, 25, 50, 75, 100])

panels = [
    box_panel(A1_cats, A1_low, A1_q1, A1_med, A1_q3, A1_high, [BLACK, BOX_RED], A1_out_cat, A1_out_val, A1g),
    box_panel(A2_cats, A2_low, A2_q1, A2_med, A2_q3, A2_high, [BLACK, BOX_BLUE, BOX_RED], A2_out_cat, A2_out_val, A2g),
    box_panel(A3_cats, A3_low, A3_q1, A3_med, A3_q3, A3_high, [BLACK, BOX_BLUE, BOX_RED], A3_out_cat, A3_out_val, A3g),
    scatter_panel(),
    km_panel([(C1_low_t, C1_low_s, C1_low_end, C1_low_cens, TEAL),
              (C1_high_t, C1_high_s, C1_high_end, C1_high_cens, SALMON)], C1g),
    km_panel([(C2_low_t, C2_low_s, C2_low_end, C2_low_cens, TEAL),
              (C2_high_t, C2_high_s, C2_high_end, C2_high_cens, SALMON)], C2g),
    km_panel([(C3_low_t, C3_low_s, C3_low_end, C3_low_cens, TEAL),
              (C3_high_t, C3_high_s, C3_high_end, C3_high_cens, SALMON)], C3g),
    km_panel([(C4_low_t, C4_low_s, C4_low_end, C4_low_cens, TEAL),
              (C4_high_t, C4_high_s, C4_high_end, C4_high_cens, SALMON)], C4g),
    dot_panel(D1_cats, [D1_normal, D1_cancer], [BLACK, BOX_RED], D1g),
    dot_panel(D2_cats, [D2_normal, D2_cancer], [BLACK, BOX_RED], D2g),
    box_panel(E_cats, E_low, E_q1, E_med, E_q3, E_high, [BLACK, BOX_RED], E_out_cat, E_out_val, Eg),
    km_panel([(F1_low_t, F1_low_s, F1_low_end, F1_low_cens, TEAL),
              (F1_high_t, F1_high_s, F1_high_end, F1_high_cens, SALMON)], F1g),
    km_panel([(F2_low_t, F2_low_s, F2_low_end, F2_low_cens, TEAL),
              (F2_high_t, F2_high_s, F2_high_end, F2_high_cens, SALMON)], F2g),
    km_panel([(G1_hnr_t, G1_hnr_s, G1_hnr_end, G1_hnr_cens, G_BLUE),
              (G1_hr_t, G1_hr_s, G1_hr_end, G1_hr_cens, G_YEL),
              (G1_lnr_t, G1_lnr_s, G1_lnr_end, G1_lnr_cens, G_GRAY),
              (G1_lr_t, G1_lr_s, G1_lr_end, G1_lr_cens, G_RED)], G1g),
    km_panel([(G2_hnr_t, G2_hnr_s, G2_hnr_end, G2_hnr_cens, G_BLUE),
              (G2_hr_t, G2_hr_s, G2_hr_end, G2_hr_cens, G_YEL),
              (G2_lnr_t, G2_lnr_s, G2_lnr_end, G2_lnr_cens, G_GRAY),
              (G2_lr_t, G2_lr_s, G2_lr_end, G2_lr_cens, G_RED)], G2g),
]

# ======================= ANNOTATIONS =======================
for letter, rx, ry in [("A", 2, 9), ("B", 440, 8.5), ("C", 2, 253), ("D", 2, 515), ("E", 240, 515),
                       ("F", 365, 515), ("G", 2, 755)]:
    T(letter, rx, ry, 14.5, "bold")

# panel titles
T("TTK", 89.3, 16.7, 11.2, "bold", align="center")
T("TTK", 223.3, 15, 11.2, "bold", align="center")
T("TTK", 361.7, 13, 11.2, "bold", align="center")
T("TCGA", 585, 38.3, 10.8, "bold", align="center")
T("GSE6791", 90, 535.7, 10.9, "bold", align="center")
T("GSE25099", 194, 535.7, 10.9, "bold", align="center")
T("TTK", 325, 540, 10.3, "bold", align="center")

# axis titles
for rx, ry in [(20.7, 126), (146.7, 126.7), (297.5, 131.7)]:
    T("Gene expression (log\u2082)", rx, ry, 8.6, align="center", angle=270)
T("Gene expression (log\u2082)", 468.3, 120.7, 9.5, align="center", angle=270)
T("Copy number", 585, 203.3, 9.5, align="center")
R([("TTK", "normal", "italic"), (" expression (AU)", "normal", "normal")], 23.3, 619, 10, align="center", angle=270)
T("Protein expression", 258.3, 624, 10, align="center", angle=270)

# panel B legend and statistics
T("HPV\u207b", 643, 38.3, 9.5)
T("HPV\u207a", 643, 55, 9.5)
PTS.append((630.7, 38.3, SC_BLUE, "circle", 14, False, 0.9))
PTS.append((630.7, 55, SC_RED, "square", 9, True, 0))
R([("r", "normal", "italic"), (" = 0.21", "normal", "normal")], 607.5, 155, 9.5)
R([("P", "normal", "italic"), (" = 1.052 \u00b7 10\u207b\u2076", "normal", "normal")], 607.5, 167, 9.5)

# KM titles / side labels
for txt, rx in [("HPV\u207b", 55), ("HPV\u207a", 211.7), ("HPV\u207b", 388.3), ("HPV\u207a", 547.3)]:
    T(txt, rx, 291.7, 11, "bold")
T("HPV\u207b", 116.7, 776.7, 10.5, "bold")
T("HPV\u207a", 400, 776.7, 10.5, "bold")
T("PFS", 33.3, 346, 11.2, "bold", align="center", angle=270)
T("OS", 367.5, 349, 11.2, "bold", align="center", angle=270)
T("PFS", 383.3, 617, 8.8, "bold", align="center", angle=270)
T("OS", 559, 609.5, 8.8, "bold", align="center", angle=270)
T("PFS", 81, 859.3, 8.8, "bold", align="center", angle=270)

# KM legends (Low/High Exp)
for lx0, lx1, tx, y1, y2 in [(110, 125, 131.7, 303.3, 317.3), (453.3, 466.7, 470, 303.3, 317.3),
                             (478.3, 490, 496, 560.7, 575)]:
    RULES.append((lx0, lx1, y1, TEAL, 1.2))
    RULES.append((lx0, lx1, y2, SALMON, 1.2))
    T("Low Exp", tx, y1, 8.0)
    T("High Exp", tx, y2, 8.0)

# G legend
for name, ry, col in zip(G_groups, [775, 789.3, 806, 822], [G_BLUE, G_YEL, G_GRAY, G_RED]):
    RULES.append((211.7, 225, ry, col, 1.6))
    PTS.append((218.3, ry, col, PLUS, 30, False, 1.3))
    T(name, 232.3, ry, 9.5, "bold")

# KM statistics
B_, BI = "bold", "italic"
for rx, ry, p, hr_lab, hr in [(68.3, 380.7, "0.005", "low", "0.5"), (228, 380.7, "0.03", "low", "3.4"),
                              (400.7, 380.7, "0.002", "low", "0.4"), (566, 380.7, "0.06", "low", "3.8"),
                              (418.3, 640, "0.1", "Low", "1 \u00b7 10\u207b\u2078"),
                              (592.3, 640, "0.1", "Low", "0.24")]:
    R([("Log-rank ", B_, "normal"), ("P", B_, BI), (" = " + p, B_, "normal")], rx, ry, 7.8)
    R([("HR", B_, BI), (" (" + hr_lab + ") = " + hr, B_, "normal")], rx, ry + 10.3, 7.8)
R([("Log-rank ", B_, "normal"), ("P", B_, BI), (" = 0.09", B_, "normal")], 120.7, 920.7, 9.5)
R([("Log-rank ", B_, "normal"), ("P", B_, BI), (" = 5 \u00b7 10\u207b\u2076", B_, "normal")], 402.3, 920.7, 9.5)

# survival-time bars
for x0, x1, ry, tx, ty in [(61.7, 333, 419.3, 195, 430), (396.7, 668, 419.3, 528, 430),
                           (413, 697, 676.7, 546.7, 689.3), (120, 640, 942.5, 374, 955)]:
    RULES.append((x0, x1, ry, BLACK, 2.6))
    T("Survival time (months)", tx, ty, 11, "bold", align="center")

# median tables (C and F)
for cxm, ym, hx, vx1, lx, vx2, hv, lv in [
        (158.7, 450, 66.7, 108.3, 66.7, 106.7, "22.9 (387)", "89.4 (46)"),
        (317.5, 450, 226.7, 266.7, 226.7, 266.7, "NA (22)", "53.1 (58)"),
        (493.3, 450, 401.7, 442.7, 402.7, 440.7, "37.3 (386)", "89.4 (46)"),
        (652, 450, 561, 600, 561, 600, "NA (24)", "58 (56)"),
        (503, 709, 417.7, 455, 417.7, 457.3, "32.2 (71)", "NA (14)"),
        (670.3, 709, 585, 620.7, 586, 622.3, "32.2 (69)", "23.9 (15)")]:
    T("Median months (cases)", cxm, ym, 9.5, align="center")
    T("Hi Exp", hx, ym + 11.7, 9.5)
    T(hv, vx1, ym + 11.7, 9.5)
    T("Lo Exp", lx, ym + 22.7, 9.5)
    T(lv, vx2, ym + 22.7, 9.5)

# median tables (G)
for cxm, rr, hx, vx, vals in [(230.3, 160, 180.7, 220.5, ["24.1 (203)", "169.5 (33)", "26.4 (129)", "NA (9)"]),
                              (514, 443.3, 464.3, 503.8, ["NA (19)", "50.1 (38)", "26.4 (2)", "53.1 (13)"])]:
    T("Median months (cases)", cxm, 969, 9.5, align="center")
    T("Radiation", rr, 988.5, 9.5, align="right")
    T("No radiation", rr, 1011.5, 9.5, align="right")
    for k, ry in enumerate([988.5, 1000, 1011.5, 1023]):
        T("Hi Exp" if k % 2 == 0 else "Lo Exp", hx, ry, 9.5)
        T(vals[k], vx, ry, 9.5)

# ---- build annotation layers ----
ann_layers = []
adf = pd.DataFrame(ANN)
for key, grp in adf.groupby(["size", "weight", "style", "align", "angle", "color"], sort=False):
    size, weight, style, align, angle, color = key
    ann_layers.append(
        alt.Chart(grp[["text", "x", "y"]].reset_index(drop=True)).mark_text(
            font=FONT, fontSize=float(size), fontWeight=weight, fontStyle=style, align=align,
            baseline="middle", angle=float(angle), color=color
        ).encode(x=alt.X("x:Q", scale=None, axis=None), y=alt.Y("y:Q", scale=None, axis=None), text="text:N"))

rdf = pd.DataFrame(RULES, columns=["x", "x2", "y", "color", "w"])
rdf["x"] = rdf["x"].map(cx)
rdf["x2"] = rdf["x2"].map(cx)
rdf["y"] = rdf["y"].map(cy)
for (color, wdt), grp in rdf.groupby(["color", "w"], sort=False):
    ann_layers.append(alt.Chart(grp[["x", "x2", "y"]].reset_index(drop=True)).mark_rule(
        color=color, strokeWidth=float(wdt)).encode(x=alt.X("x:Q", scale=None, axis=None), x2="x2:Q",
                                                    y=alt.Y("y:Q", scale=None, axis=None)))

for (px, py, color, shape, size, filled, sw) in PTS:
    pdf = pd.DataFrame({"x": [cx(px)], "y": [cy(py)]})
    kw = dict(shape=shape, size=size, filled=filled, color=color, opacity=1)
    if not filled:
        kw["strokeWidth"] = sw
    ann_layers.append(alt.Chart(pdf).mark_point(**kw).encode(x=alt.X("x:Q", scale=None, axis=None),
                                                             y=alt.Y("y:Q", scale=None, axis=None)))

chart = alt.layer(*panels, *ann_layers).resolve_scale(
    x="independent", y="independent").resolve_axis(x="independent", y="independent").properties(
    width=W, height=H, padding=0, autosize=alt.AutoSizeParams(type="none"), background="white"
).configure_view(stroke=None)

chart.save("out.html", embed_options={"renderer": "svg", "actions": False})
